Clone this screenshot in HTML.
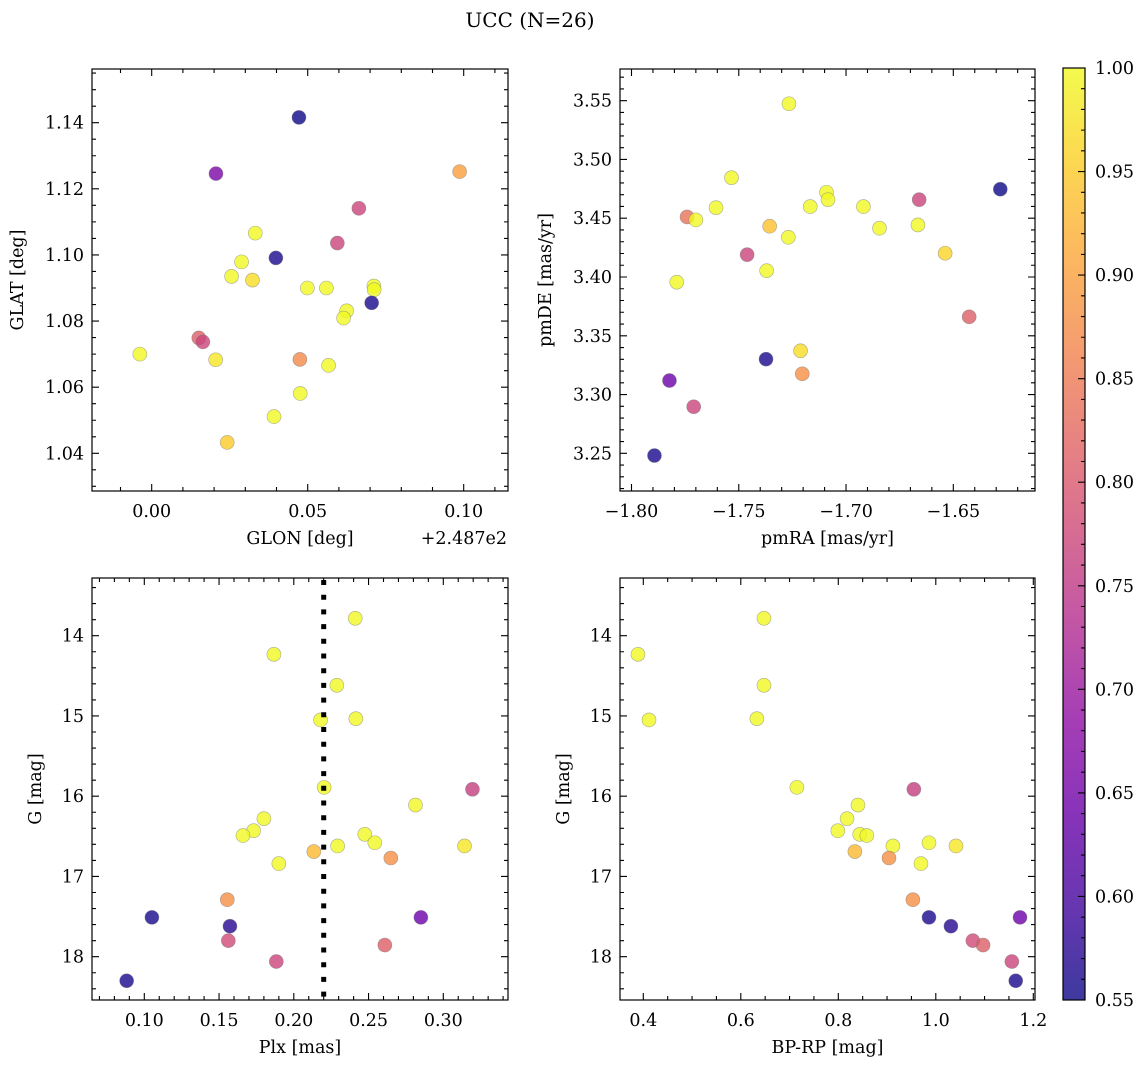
<!DOCTYPE html>
<html><head><meta charset="utf-8">
<style>
html,body{margin:0;padding:0;background:#fff;}
svg{display:block;font-family:"DejaVu Serif","Liberation Serif",serif;}
</style></head>
<body>
<svg id="fig" width="1148" height="1068" viewBox="0 0 1148 1068" xmlns="http://www.w3.org/2000/svg">
<text x="530" y="27" font-size="20" text-anchor="middle">UCC (N=26)</text>
</svg>
<script>
// ---- Panel 1: GLON vs GLAT (offset +248.7) ----
const glonOff=[0.0472,0.0206,0.0987,0.0664,0.0332,0.0595,0.0398,0.0288,0.0256,0.0323,0.0499,0.0560,0.0712,0.0713,0.0625,0.0615,0.0705,-0.0038,0.0151,0.0164,0.0205,0.0475,0.0567,0.0476,0.0392,0.0242];
const glat=[1.1416,1.1246,1.1252,1.1141,1.1066,1.1036,1.0991,1.0979,1.0935,1.0924,1.0900,1.0900,1.0906,1.0895,1.0831,1.0809,1.0855,1.0700,1.0749,1.0737,1.0683,1.0684,1.0666,1.0581,1.0511,1.0433];
const prob1=[0.55,0.66,0.90,0.77,1,0.77,0.56,1,1,0.97,1,1,1,1,1,1,0.56,1,0.81,0.77,0.98,0.87,1,1,1,0.95];
// ---- Panel 2: pmRA vs pmDE ----
const pmra=[-1.7266,-1.7534,-1.7606,-1.7741,-1.7700,-1.7091,-1.7084,-1.7167,-1.6919,-1.6659,-1.6281,-1.7356,-1.7269,-1.6844,-1.6665,-1.6538,-1.7461,-1.7370,-1.7789,-1.6426,-1.7373,-1.7212,-1.7204,-1.7823,-1.7710,-1.7893];
const pmde=[3.5474,3.4845,3.4590,3.4511,3.4486,3.4721,3.4658,3.4599,3.4599,3.4658,3.4747,3.4432,3.4338,3.4415,3.4443,3.4202,3.4190,3.4054,3.3956,3.3661,3.3301,3.3372,3.3176,3.3119,3.2896,3.2481];
const prob2=[1,1,1,0.84,1,1,1,1,1,0.77,0.55,0.94,1,1,1,0.96,0.77,1,1,0.81,0.56,0.97,0.88,0.64,0.77,0.56];
// ---- Panel 3: Plx vs G ----
const plx=[0.2411,0.1867,0.2288,0.2179,0.2415,0.2203,0.3195,0.2814,0.1800,0.1731,0.1660,0.2475,0.2542,0.2293,0.3142,0.2134,0.2649,0.1900,0.1555,0.1051,0.2850,0.1573,0.1562,0.2609,0.1883,0.0882];
const gmag3=[13.783,14.232,14.618,15.050,15.034,15.890,15.914,16.110,16.28,16.43,16.49,16.475,16.58,16.62,16.62,16.69,16.77,16.84,17.29,17.51,17.51,17.62,17.80,17.855,18.06,18.30];
const prob3=[1,1,1,1,1,1,0.76,1,1,1,1,1,1,1,0.98,0.93,0.88,1,0.88,0.56,0.64,0.57,0.78,0.81,0.77,0.56];
const plxLine=[0.22];
// ---- Panel 4: BP-RP vs G ----
const bprp=[0.389,0.6475,0.6475,0.4117,0.633,0.715,0.955,0.8403,0.818,0.799,0.844,0.8586,0.912,0.986,1.0414,0.834,0.904,0.9696,0.953,0.986,1.1727,1.031,1.076,1.097,1.156,1.164];
const gmag4=[14.232,13.783,14.618,15.050,15.034,15.890,15.914,16.110,16.28,16.43,16.475,16.49,16.62,16.58,16.62,16.69,16.77,16.84,17.29,17.51,17.51,17.62,17.80,17.855,18.06,18.30];
const prob4=[1,1,1,1,1,1,0.76,1,1,1,1,1,1,1,0.98,0.93,0.88,1,0.88,0.56,0.64,0.57,0.78,0.81,0.77,0.56];
// ---- tick labels ----
const p1xTicks=[0.00,0.05,0.10], p1xLabels=["0.00","0.05","0.10"];
const p1yTicks=[1.04,1.06,1.08,1.10,1.12,1.14], p1yLabels=["1.04","1.06","1.08","1.10","1.12","1.14"];
const p2xTicks=[-1.80,-1.75,-1.70,-1.65], p2xLabels=["\u22121.80","\u22121.75","\u22121.70","\u22121.65"];
const p2yTicks=[3.25,3.30,3.35,3.40,3.45,3.50,3.55], p2yLabels=["3.25","3.30","3.35","3.40","3.45","3.50","3.55"];
const p3xTicks=[0.10,0.15,0.20,0.25,0.30], p3xLabels=["0.10","0.15","0.20","0.25","0.30"];
const gTicks=[14,15,16,17,18], gLabels=["14","15","16","17","18"];
const p4xTicks=[0.4,0.6,0.8,1.0,1.2], p4xLabels=["0.4","0.6","0.8","1.0","1.2"];
const cbTicks=[0.55,0.60,0.65,0.70,0.75,0.80,0.85,0.90,0.95,1.00], cbLabels=["0.55","0.60","0.65","0.70","0.75","0.80","0.85","0.90","0.95","1.00"];
const vmin=0.55, vmax=1.0;

const FS=17.5;
const NS="http://www.w3.org/2000/svg";
const svg=document.getElementById('fig');
function mk(tag,attrs,parent){const e=document.createElementNS(NS,tag);for(const k in attrs)e.setAttribute(k,attrs[k]);(parent||svg).appendChild(e);return e;}
const stops=[[13,8,135],[65,4,157],[106,0,168],[143,13,164],[177,42,144],[204,71,120],[225,100,98],[242,132,75],[252,166,54],[252,206,37],[240,249,33]];
function plasma(t){t=Math.max(0,Math.min(1,t));const f=t*10,i=Math.min(9,Math.floor(f)),r=f-i;const a=stops[i],b=stops[i+1];return 'rgb('+a.map((v,k)=>Math.round(v+(b[k]-v)*r)).join(',')+')';}
function lin(d0,d1,r0,r1){return v=>r0+(v-d0)/(d1-d0)*(r1-r0);}

function panel(o){
  const g=mk('g',{});
  
  
  const X=lin(o.xd[0],o.xd[1],o.L,o.R), Y=lin(o.yd[0],o.yd[1],o.B,o.T);
  const pts=mk('g',{},g);
  
  
  for(let i=0;i<o.xs.length;i++){
    const c=mk('circle',{cx:X(o.xs[i]),cy:Y(o.ys[i]),r:7,fill:plasma((o.ps[i]-vmin)/(vmax-vmin)),'fill-opacity':0.8,stroke:'#777','stroke-opacity':0.6,'stroke-width':0.6},pts);
    
    
  }
  if(o.vline){const vl=mk('line',{x1:X(o.vline[0]),x2:X(o.vline[0]),y1:o.T+2,y2:o.B,stroke:'#000','stroke-width':5,'stroke-dasharray':'5 9.7'},g);
    
    }
  const fr=mk('rect',{x:o.L,y:o.T,width:o.R-o.L,height:o.B-o.T,fill:'none',stroke:'#000','stroke-width':1.2},g);
  
  
  let p='';
  for(let v=o.xmin[0];v<=o.xd[1]+1e-9;v+=o.xmin[1]){const x=X(v);if(x<o.L-0.5||x>o.R+0.5)continue;p+=`M${x},${o.B}v-4M${x},${o.T}v4`;}
  for(let v=o.ymin[0];v<=Math.max(o.yd[0],o.yd[1])+1e-9;v+=o.ymin[1]){const y=Y(v);if(y<o.T-0.5||y>o.B+0.5)continue;p+=`M${o.L},${y}h4M${o.R},${y}h-4`;}
  o.xt.forEach(v=>{const x=X(v);p+=`M${x},${o.B}v-7M${x},${o.T}v7`;});
  o.yt.forEach(v=>{const y=Y(v);p+=`M${o.L},${y}h7M${o.R},${y}h-7`;});
  const tk=mk('path',{d:p,stroke:'#000','stroke-width':1.1,fill:'none'},g);
  
  
  o.xt.forEach((v,i)=>{const t=mk('text',{x:X(v),y:o.B+26,'font-size':FS,'text-anchor':'middle'},g);t.textContent=o.xl[i];
    
    });
  o.yt.forEach((v,i)=>{const t=mk('text',{x:o.L-8,y:Y(v)+6,'font-size':FS,'text-anchor':'end'},g);t.textContent=o.yl[i];
    
    });
  const xt=mk('text',{x:(o.L+o.R)/2+o.xtOff,y:o.B+53,'font-size':FS,'text-anchor':'middle'},g);xt.textContent=o.xtitle;
  
  
  const yt=mk('text',{x:0,y:0,'font-size':FS,'text-anchor':'middle',transform:`translate(${o.ytx},${(o.T+o.B)/2}) rotate(-90)`},g);yt.textContent=o.ytitle;
  
  
}

(function(){
  const x0=151.7,x1=307.7,y0=453.3,y1=122.7;
  const xa=0+(92-x0)/(x1-x0)*0.05, xb=0+(508-x0)/(x1-x0)*0.05;
  const ya=1.04+(491-y0)/(y1-y0)*0.10, yb=1.04+(69-y0)/(y1-y0)*0.10;
  panel({name:'glon-glat-panel',L:92,R:508,T:69,B:491,xd:[xa,xb],yd:[ya,yb],
    xs:glonOff,ys:glat,ps:prob1,xt:p1xTicks,xl:p1xLabels,yt:p1yTicks,yl:p1yLabels,
    xmin:[-0.02,0.01],ymin:[1.025,0.005],xtitle:'GLON [deg]',ytitle:'GLAT [deg]',ytx:23,xtOff:0});
  const off=mk('text',{x:507,y:544,'font-size':FS,'text-anchor':'end'});off.textContent='+2.487e2';
  
  
})();
(function(){
  const x0=631.5,x1=953.3,y0=453.3,y1=100.7;
  const xa=-1.80+(620-x0)/(x1-x0)*0.15, xb=-1.80+(1035-x0)/(x1-x0)*0.15;
  const ya=3.25+(491-y0)/(y1-y0)*0.30, yb=3.25+(69-y0)/(y1-y0)*0.30;
  panel({name:'pm-panel',L:620,R:1035,T:69,B:491,xd:[xa,xb],yd:[ya,yb],
    xs:pmra,ys:pmde,ps:prob2,xt:p2xTicks,xl:p2xLabels,yt:p2yTicks,yl:p2yLabels,
    xmin:[-1.82,0.01],ymin:[3.22,0.01],xtitle:'pmRA [mas/yr]',ytitle:'pmDE [mas/yr]',ytx:551,xtOff:0});
})();
(function(){
  const x0=144.3,x1=443.3,y0=635.7,y1=956.7;
  const xa=0.10+(92-x0)/(x1-x0)*0.20, xb=0.10+(508-x0)/(x1-x0)*0.20;
  const ya=14+(1000-y0)/(y1-y0)*4, yb=14+(578-y0)/(y1-y0)*4;
  panel({name:'plx-g-panel',L:92,R:508,T:578,B:1000,xd:[xa,xb],yd:[ya,yb],vline:plxLine,
    xs:plx,ys:gmag3,ps:prob3,xt:p3xTicks,xl:p3xLabels,yt:gTicks,yl:gLabels,
    xmin:[0.06,0.01],ymin:[13.4,0.2],xtitle:'Plx [mas]',ytitle:'G [mag]',ytx:41,xtOff:0});
})();
(function(){
  const x0=643.3,x1=1033.3,y0=635.7,y1=956.7;
  const xa=0.4+(620-x0)/(x1-x0)*0.8, xb=0.4+(1035-x0)/(x1-x0)*0.8;
  const ya=14+(1000-y0)/(y1-y0)*4, yb=14+(578-y0)/(y1-y0)*4;
  panel({name:'cmd-panel',L:620,R:1035,T:578,B:1000,xd:[xa,xb],yd:[ya,yb],
    xs:bprp,ys:gmag4,ps:prob4,xt:p4xTicks,xl:p4xLabels,yt:gTicks,yl:gLabels,
    xmin:[0.35,0.05],ymin:[13.4,0.2],xtitle:'BP-RP [mag]',ytitle:'G [mag]',ytx:569,xtOff:0});
})();
(function(){
  const L=1063,R=1085,T=68,B=1000;
  const g=mk('g',{});
  
  
  const defs=mk('defs',{},g);
  const lg=mk('linearGradient',{id:'cbg',x1:0,y1:1,x2:0,y2:0},defs);
  for(let i=0;i<=20;i++){mk('stop',{offset:i/20,'stop-color':plasma(i/20),'stop-opacity':0.8},lg);}
  mk('rect',{x:L,y:T,width:R-L,height:B-T,fill:'url(#cbg)',stroke:'#000','stroke-width':1.2},g);
  const Y=lin(vmin,vmax,B,T);
  let p='';
  for(let k=0;k<=45;k++){const y=Y(vmin+k*0.01);p+=`M${R},${y}h${k%5==0?-7:-4}`;}
  mk('path',{d:p,stroke:'#000','stroke-width':1.1},g);
  cbTicks.forEach((v,i)=>{const t=mk('text',{x:R+10,y:Y(v)+6,'font-size':FS},g);t.textContent=cbLabels[i];
    
    });
})();
</script>
</body></html>
